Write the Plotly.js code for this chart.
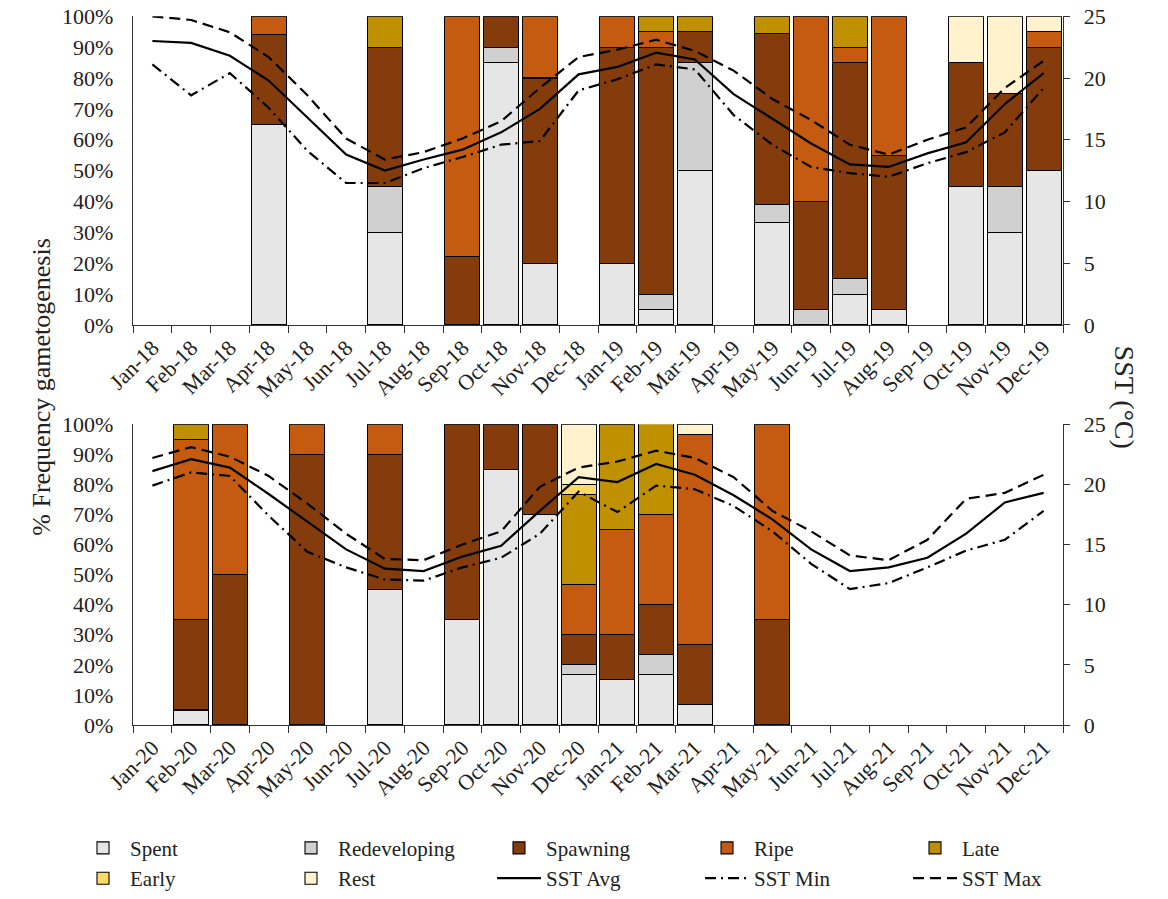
<!DOCTYPE html>
<html>
<head>
<meta charset="utf-8">
<script src="https://cdn.plot.ly/plotly-3.0.1.min.js"></script>
<style>html,body{margin:0;padding:0;background:#fff;}#chart{width:1168px;height:899px;}</style>
</head>
<body>
<div id="chart"></div>
<script>
var months1 = ['Jan-18','Feb-18','Mar-18','Apr-18','May-18','Jun-18','Jul-18','Aug-18','Sep-18','Oct-18','Nov-18','Dec-18',
               'Jan-19','Feb-19','Mar-19','Apr-19','May-19','Jun-19','Jul-19','Aug-19','Sep-19','Oct-19','Nov-19','Dec-19'];
var months2 = ['Jan-20','Feb-20','Mar-20','Apr-20','May-20','Jun-20','Jul-20','Aug-20','Sep-20','Oct-20','Nov-20','Dec-20',
               'Jan-21','Feb-21','Mar-21','Apr-21','May-21','Jun-21','Jul-21','Aug-21','Sep-21','Oct-21','Nov-21','Dec-21'];
var n = null;

// 2018-2019 gametogenesis frequencies (%)
var spent1  = [n,n,n,65,n,n,30,n,n,85,20,n, 20,5,50,n,33.3,n,10,5,n,45,30,50];
var redev1  = [n,n,n,n,n,n,15,n,n,5,n,n, n,5,35,n,5.6,5,5,n,n,n,15,n];
var spawn1  = [n,n,n,29,n,n,45,n,22.2,10,60,n, 70,80,10,n,55.6,35,70,50,n,40,30,40];
var ripe1   = [n,n,n,6,n,n,n,n,77.8,n,20,n, 10,5,n,n,n,60,5,45,n,n,n,5];
var late1   = [n,n,n,n,n,n,10,n,n,n,n,n, n,5,5,n,5.6,n,10,n,n,n,n,n];
var early1  = [n,n,n,n,n,n,n,n,n,n,n,n, n,n,n,n,n,n,n,n,n,n,n,n];
var rest1   = [n,n,n,n,n,n,n,n,n,n,n,n, n,n,n,n,n,n,n,n,n,15,25,5];

// 2018-2019 SST (°C)
var sstAvg1 = [23.0,22.85,21.8,19.8,16.8,13.8,12.5,13.4,14.2,15.6,17.5,20.3, 20.9,22.05,21.5,18.7,16.7,14.7,13.0,12.8,13.9,14.8,17.9,20.4];
var sstMin1 = [21.1,18.6,20.4,17.6,14.1,11.5,11.5,12.7,13.6,14.6,14.9,19.0, 19.9,21.1,20.7,17.0,14.6,12.8,12.3,12.0,13.1,14.0,15.6,19.2];
var sstMax1 = [25.0,24.7,23.7,21.7,18.6,15.1,13.4,14.0,15.1,16.5,19.2,21.7, 22.3,23.1,22.2,20.6,18.3,16.6,14.6,13.8,15.0,16.0,19.2,21.4];

// 2020-2021 gametogenesis frequencies (%)
var spent2  = [n,5,n,n,n,n,45,n,35,85,70,16.7, 15,16.7,6.7,n,n,n,n,n,n,n,n,n];
var redev2  = [n,n,n,n,n,n,n,n,n,n,n,3.3, n,6.7,n,n,n,n,n,n,n,n,n,n];
var spawn2  = [n,30,50,n,90,n,45,n,65,15,30,10, 15,16.7,20,n,35,n,n,n,n,n,n,n];
var ripe2   = [n,60,50,n,10,n,10,n,n,n,n,16.7, 35,30,70,n,65,n,n,n,n,n,n,n];
var late2   = [n,5,n,n,n,n,n,n,n,n,n,30, 35,30,n,n,n,n,n,n,n,n,n,n];
var early2  = [n,n,n,n,n,n,n,n,n,n,n,3.3, n,n,n,n,n,n,n,n,n,n,n,n];
var rest2   = [n,n,n,n,n,n,n,n,n,n,n,20, n,n,3.3,n,n,n,n,n,n,n,n,n];

// 2020-2021 SST (°C)
var sstAvg2 = [21.1,22.1,21.4,19.2,16.9,14.6,13.0,12.8,14.0,14.9,17.8,20.6, 20.2,21.7,20.8,19.1,17.1,14.6,12.8,13.1,13.9,15.9,18.5,19.3];
var sstMin2 = [19.9,21.0,20.7,17.4,14.4,13.1,12.1,12.0,13.1,13.9,15.9,19.4, 17.7,19.9,19.6,18.2,16.1,13.4,11.3,11.8,13.1,14.5,15.4,17.8];
var sstMax2 = [22.2,23.1,22.3,20.7,18.4,15.9,13.8,13.7,15.0,16.1,19.8,21.4, 21.9,22.8,22.2,20.6,17.8,16.1,14.1,13.7,15.4,18.8,19.3,20.8];

var stageNames = ['Spent','Redeveloping','Spawning','Ripe','Late','Early','Rest'];
var stageColors = ['#E6E6E6','#D0D0D0','#843C0C','#C55A11','#BF9000','#FFD966','#FFF2CC'];
var stages1 = [spent1, redev1, spawn1, ripe1, late1, early1, rest1];
var stages2 = [spent2, redev2, spawn2, ripe2, late2, early2, rest2];

var FONT = 'Liberation Serif, Times New Roman, serif';
var traces = [];

function addBars(cats, stages, xa, ya, show) {
  for (var i = 0; i < stages.length; i++) {
    traces.push({
      type: 'bar', x: cats, y: stages[i], name: stageNames[i],
      xaxis: xa, yaxis: ya, showlegend: show, legendrank: i + 1,
      marker: {color: stageColors[i], line: {color: '#000', width: 1.1}},
      hoverinfo: 'skip'
    });
  }
}
function addLines(cats, avg, mn, mx, xa, ya, show) {
  traces.push({type: 'scatter', mode: 'lines', x: cats, y: avg, name: 'SST Avg', xaxis: xa, yaxis: ya,
    showlegend: show, legendrank: 8, line: {color: '#000', width: 2.2}});
  traces.push({type: 'scatter', mode: 'lines', x: cats, y: mn, name: 'SST Min', xaxis: xa, yaxis: ya,
    showlegend: show, legendrank: 9, line: {color: '#000', width: 2.2, dash: '11px,5px,2px,5px'}});
  traces.push({type: 'scatter', mode: 'lines', x: cats, y: mx, name: 'SST Max', xaxis: xa, yaxis: ya,
    showlegend: show, legendrank: 10, line: {color: '#000', width: 2.2, dash: '11px,6px'}});
}

addBars(months2, stages2, 'x2', 'y3', true);
addBars(months1, stages1, 'x', 'y', false);
addLines(months1, sstAvg1, sstMin1, sstMax1, 'x', 'y2', true);
addLines(months2, sstAvg2, sstMin2, sstMax2, 'x2', 'y4', false);

var W = 1168, H = 899;
function px(v) { return v / W; }
function py(v) { return 1 - v / H; }

var xCommon = {
  type: 'category', tickson: 'boundaries', ticks: 'outside', ticklen: 7, tickcolor: '#333',
  showline: true, linecolor: '#333', linewidth: 1.3, tickangle: -45,
  tickfont: {family: FONT, size: 22, color: '#222'}, showgrid: false, zeroline: false,
  domain: [px(133), px(1063)], fixedrange: true
};
var yLeft = {
  range: [0, 100], dtick: 10, ticksuffix: '%', showline: true, linecolor: '#333', linewidth: 1.3,
  ticks: '', ticklabelstandoff: 14, showgrid: false, zeroline: false,
  tickfont: {family: FONT, size: 22, color: '#222'}, fixedrange: true
};
var yRight = {
  range: [0, 25], dtick: 5, side: 'right', showline: true, linecolor: '#333', linewidth: 1.3,
  ticks: 'outside', ticklen: 6, tickcolor: '#333', ticklabelstandoff: 9, showgrid: false, zeroline: false,
  tickfont: {family: FONT, size: 22, color: '#222'}, fixedrange: true
};

var layout = {
  width: W, height: H,
  margin: {l: 0, r: 0, t: 0, b: 0},
  paper_bgcolor: '#fff', plot_bgcolor: 'rgba(0,0,0,0)',
  barmode: 'stack', bargap: 0.1,
  font: {family: FONT, color: '#222'},
  xaxis: Object.assign({}, xCommon, {anchor: 'y'}),
  xaxis2: Object.assign({}, xCommon, {anchor: 'y3'}),
  yaxis: Object.assign({}, yLeft, {domain: [py(329), py(16.5)], anchor: 'x'}),
  yaxis2: Object.assign({}, yRight, {domain: [py(329), py(16.5)], anchor: 'x', overlaying: 'y'}),
  yaxis3: Object.assign({}, yLeft, {domain: [py(734), py(429.5)], anchor: 'x2'}),
  yaxis4: Object.assign({}, yRight, {domain: [py(734), py(429.5)], anchor: 'x2', overlaying: 'y3'}),
  legend: {
    orientation: 'h', x: px(76), xanchor: 'left', y: py(838), yanchor: 'top',
    entrywidth: 149, entrywidthmode: 'pixels', itemwidth: 44, traceorder: 'normal',
    font: {family: FONT, size: 21, color: '#222'}, bgcolor: 'rgba(0,0,0,0)'
  },
  showlegend: true,
  annotations: [
    {text: '% Frequency gametogenesis', xref: 'paper', yref: 'paper', x: px(25), y: py(392),
     textangle: -90, showarrow: false, font: {family: FONT, size: 26, color: '#222'}},
    {text: 'SST (°C)', xref: 'paper', yref: 'paper', x: px(1142), y: py(402),
     textangle: 90, showarrow: false, font: {family: FONT, size: 28, color: '#222'}}
  ]
};

Plotly.newPlot('chart', traces, layout, {displayModeBar: false, staticPlot: true});
</script>
</body>
</html>
